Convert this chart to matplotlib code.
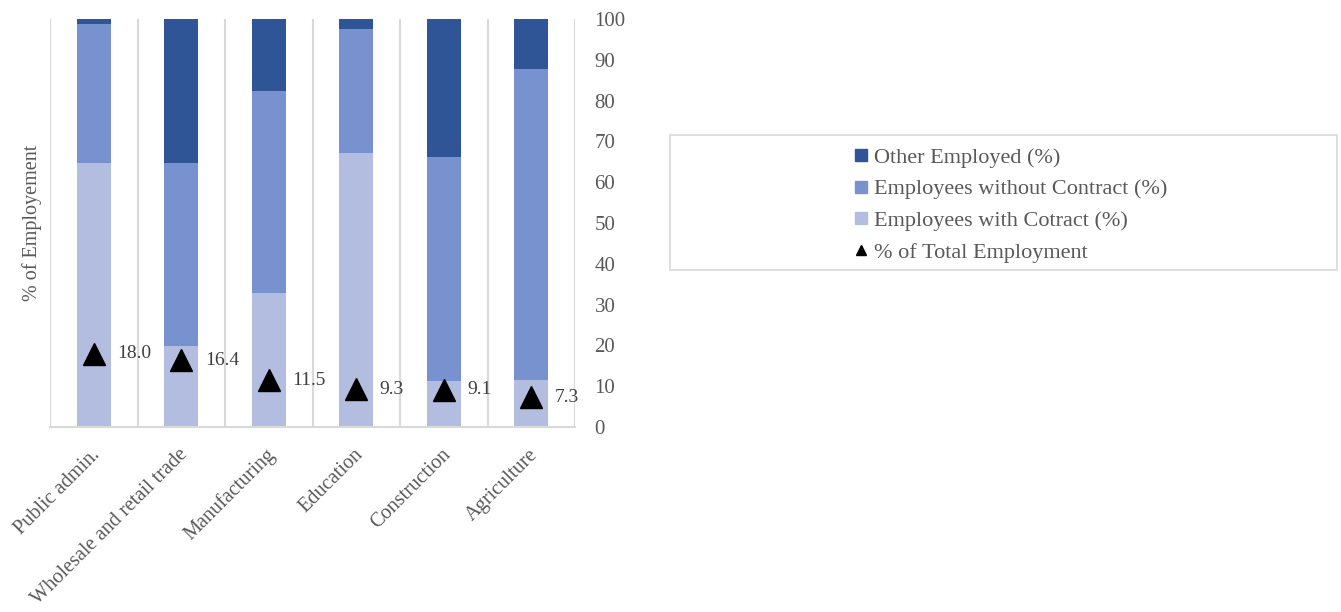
import matplotlib
matplotlib.use("Agg")
import matplotlib.pyplot as plt
from matplotlib.patches import Rectangle
from matplotlib.lines import Line2D
from matplotlib.transforms import ScaledTranslation
import numpy as np

sectors = ["Public admin.", "Wholesale and retail trade", "Manufacturing",
           "Education", "Construction", "Agriculture"]
with_contract = [64.6, 19.9, 32.9, 67.1, 11.3, 11.5]
without_contract = [34.1, 44.7, 49.5, 30.4, 54.9, 76.2]
other_employed = [1.3, 35.4, 17.6, 2.5, 33.8, 12.3]
share_total = [18.0, 16.4, 11.5, 9.3, 9.1, 7.3]

c_other = "#2f5597"
c_without = "#7891cf"
c_with = "#b3bde0"
grey = "#d9d9d9"
text_c = "#595959"

plt.rcParams["font.family"] = ["Liberation Serif", "DejaVu Serif"]

fig = plt.figure(figsize=(13.41, 6.12), dpi=100)
ax = fig.add_axes([50 / 1341, 1 - 427 / 612, 525 / 1341, 408 / 612])

x = np.arange(len(sectors)) + 0.5
w = 0.39
b1 = np.array(with_contract)
b2 = b1 + np.array(without_contract)
ax.bar(x, with_contract, w, color=c_with, zorder=2)
ax.bar(x, without_contract, w, bottom=b1, color=c_without, zorder=2)
ax.bar(x, other_employed, w, bottom=b2, color=c_other, zorder=2)

ax.plot(x, share_total, linestyle="none", marker="^", markersize=16,
        color="black", zorder=3)
for xi, v in zip(x, share_total):
    ax.annotate(f"{v:.1f}", (xi, v), xytext=(17, 0), textcoords="offset points",
                ha="left", va="center", fontsize=14, color="#404040", zorder=4)

ax.set_xlim(0, len(sectors))
ax.set_ylim(0, 100)

# category separators
for b in range(len(sectors) + 1):
    ax.axvline(b, color=grey, linewidth=1.5, zorder=1)

for s in ["top", "left", "right"]:
    ax.spines[s].set_visible(False)
ax.spines["bottom"].set_color(grey)
ax.spines["bottom"].set_linewidth(1.5)

ax.set_xticks(x)
ax.set_xticklabels(sectors, rotation=45, ha="right", rotation_mode="anchor",
                   fontsize=14.6, color=text_c)
ax.tick_params(axis="x", length=0, pad=13)
shift = ScaledTranslation(-3 / 100, 0, fig.dpi_scale_trans)
for lab in ax.get_xticklabels():
    lab.set_transform(lab.get_transform() + shift)

ax.yaxis.tick_right()
ax.set_yticks(np.arange(0, 101, 10))
ax.tick_params(axis="y", length=0, pad=14, labelsize=15, labelcolor=text_c)
ax.yaxis.set_label_position("left")
ax.set_ylabel("% of Employement", fontsize=14.5, color=text_c, labelpad=6)

# legend box
fig.patches.append(Rectangle((670 / 1341, 1 - 270 / 612), 667 / 1341, 135 / 612,
                             transform=fig.transFigure, fill=False,
                             edgecolor=grey, linewidth=1.2))
handles = [
    Line2D([], [], linestyle="none", marker="s", markersize=9, color=c_other),
    Line2D([], [], linestyle="none", marker="s", markersize=9, color=c_without),
    Line2D([], [], linestyle="none", marker="s", markersize=9, color=c_with),
    Line2D([], [], linestyle="none", marker="^", markersize=7, color="black"),
]
labels = ["Other Employed (%)", "Employees without Contract (%)",
          "Employees with Cotract (%)", "% of Total Employment"]
leg = fig.legend(handles, labels, loc="center",
                 bbox_to_anchor=(1011 / 1341, 1 - 205 / 612),
                 frameon=False, fontsize=16, handlelength=0.6,
                 handletextpad=0.3, labelspacing=0.5, labelcolor=text_c)

fig.savefig("out.png", dpi=100)
